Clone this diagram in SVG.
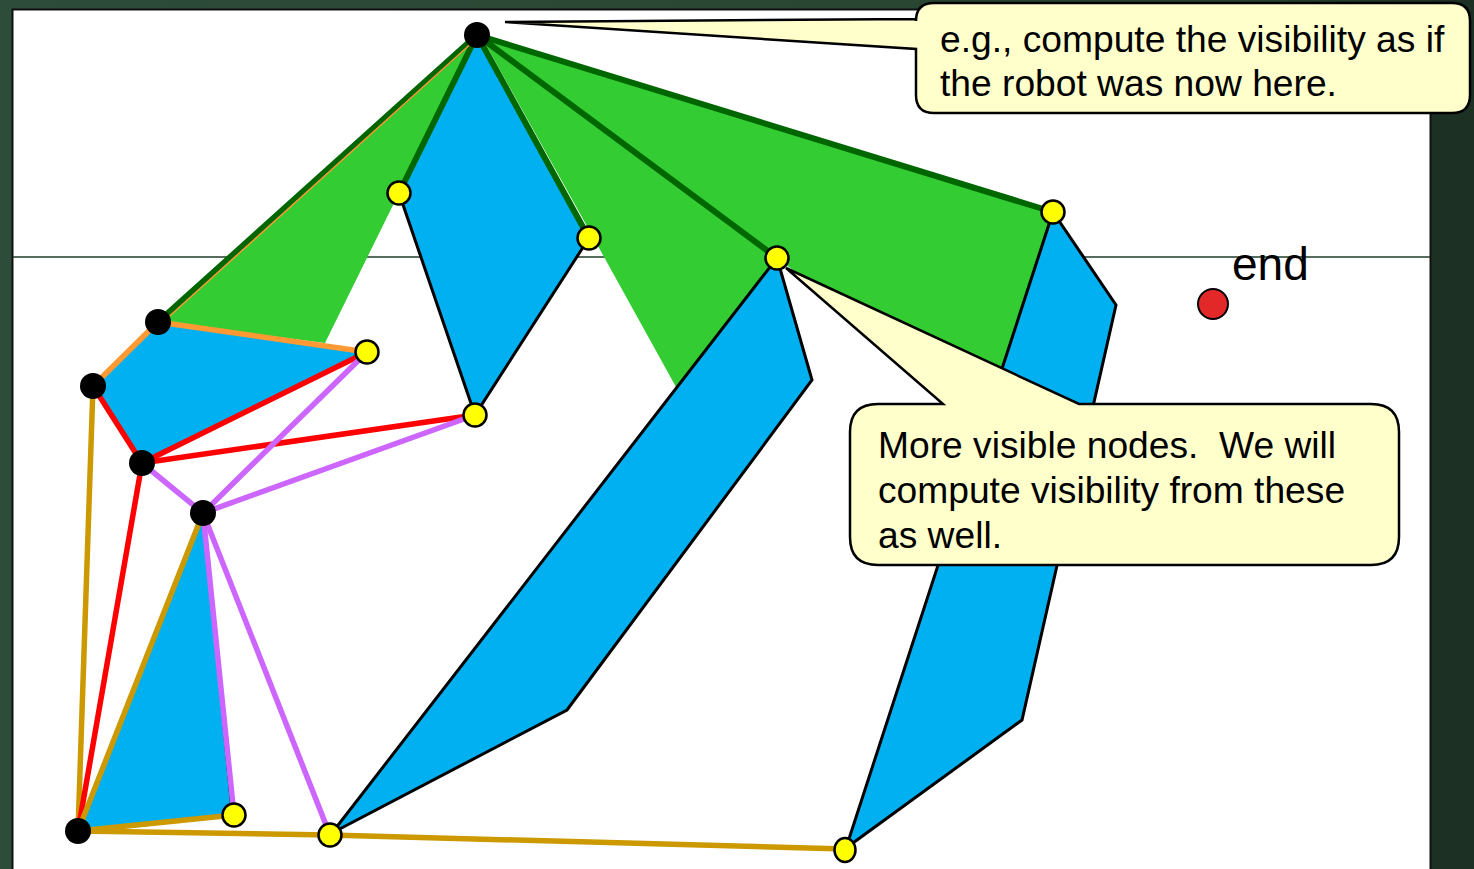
<svg xmlns="http://www.w3.org/2000/svg" width="1474" height="869" viewBox="0 0 1474 869">
<defs>
<linearGradient id="bg" x1="0" y1="0" x2="1" y2="0">
<stop offset="0" stop-color="#2d4c39"/>
<stop offset="0.85" stop-color="#27432f"/>
<stop offset="1" stop-color="#1b2f22"/>
</linearGradient>
<style>
.green{fill:#33cc33;stroke:none}
.blue{fill:#00b0f0;stroke:#000;stroke-width:3;stroke-linejoin:miter}
.dg{stroke:#006600;stroke-width:6;fill:none;stroke-linecap:round}
.or{stroke:#ff9933;stroke-width:5.5;fill:none;stroke-linecap:round}
.rd{stroke:#ff0000;stroke-width:5.5;fill:none;stroke-linecap:round}
.pu{stroke:#cc66ff;stroke-width:5.5;fill:none;stroke-linecap:round}
.gd{stroke:#cc9900;stroke-width:5.5;fill:none;stroke-linecap:round}
.bn{fill:#000}
.yn{fill:#ffff00;stroke:#000;stroke-width:2.5}
.call{fill:#ffffcc;stroke:#000;stroke-width:2.5;stroke-linejoin:miter}
.txt{font-family:"Liberation Sans",Arial,sans-serif;font-size:37.2px;fill:#000;white-space:pre}
</style>
</defs>
<rect x="0" y="0" width="1474" height="869" fill="url(#bg)"/>
<rect x="1432" y="0" width="42" height="869" fill="#1c3124"/>
<rect x="12.5" y="9.5" width="1418" height="870" fill="#ffffff" stroke="#111" stroke-width="2"/>
<line x1="13" y1="257" x2="1430" y2="257" stroke="#1f3d2b" stroke-width="1.5"/>

<g id="regions">
<polygon class="green" points="477,35 158,322 325,343 399,193"/>
<polygon class="green" points="481,36 593,237 676,387 777,258"/>
<polygon class="green" points="477,35 777,258 988,416 1053,212"/>
<polygon class="blue" points="477,35 399,193 475,415 589,238"/>
<polygon class="blue" points="777,258 812,380 567,710 332,833"/>
<polygon class="blue" points="1053,212 1116,305 1022,720 846,848"/>
<polygon points="158,322 93,386 142,463 367,352" fill="#00b0f0"/>
<polygon points="203,513 232,815 78,831" fill="#00b0f0" stroke="#000" stroke-width="2"/>
</g>

<g id="connectors">
<line x1="480" y1="37" x2="592" y2="238" stroke="#fff" stroke-width="2"/>
<line class="dg" x1="477" y1="35" x2="399" y2="193"/>
<line class="dg" x1="477" y1="35" x2="158" y2="322"/>
<line class="dg" x1="477" y1="35" x2="589" y2="238"/>
<line class="dg" x1="477" y1="35" x2="777" y2="258"/>
<line class="dg" x1="477" y1="35" x2="1053" y2="212"/>
<line x1="475" y1="40" x2="163" y2="322" stroke="#ff9933" stroke-width="1.5"/>
<line class="or" x1="158" y1="322" x2="93" y2="386"/>
<line class="or" x1="158" y1="322" x2="367" y2="352"/>
<line class="gd" x1="93" y1="386" x2="78" y2="831"/>
<line class="rd" x1="93" y1="386" x2="142" y2="463"/>
<line class="rd" x1="142" y1="463" x2="367" y2="352"/>
<line class="rd" x1="142" y1="463" x2="475" y2="415"/>
<line class="rd" x1="142" y1="463" x2="78" y2="831"/>
<line class="pu" x1="142" y1="463" x2="203" y2="513"/>
<line class="pu" x1="203" y1="513" x2="367" y2="352"/>
<line class="pu" x1="203" y1="513" x2="475" y2="415"/>
<line class="pu" x1="203" y1="513" x2="234" y2="815"/>
<line class="pu" x1="203" y1="513" x2="330" y2="835"/>
<line class="gd" x1="78" y1="831" x2="203" y2="513"/>
<line class="gd" x1="78" y1="831" x2="234" y2="815"/>
<line class="gd" x1="78" y1="831" x2="330" y2="835"/>
<line class="gd" x1="330" y1="835" x2="845" y2="849"/>
</g>

<g id="n0"><circle class="bn" cx="477" cy="35" r="13"/></g>
<g id="n1"><circle class="bn" cx="158" cy="322" r="13"/></g>
<g id="n2"><circle class="bn" cx="93" cy="386" r="13"/></g>
<g id="n3"><circle class="bn" cx="142" cy="463" r="13"/></g>
<g id="n4"><circle class="bn" cx="203" cy="513" r="13"/></g>
<g id="n5"><circle class="bn" cx="78" cy="831" r="13"/></g>
<g id="y1"><circle class="yn" cx="399" cy="193" r="11.5"/></g>
<g id="y2"><circle class="yn" cx="589" cy="238" r="11.5"/></g>
<g id="y3"><circle class="yn" cx="777" cy="258" r="11.5"/></g>
<g id="y4"><circle class="yn" cx="1053" cy="212" r="11.5"/></g>
<g id="y5"><circle class="yn" cx="367" cy="352" r="11.5"/></g>
<g id="y6"><circle class="yn" cx="475" cy="415" r="11.5"/></g>
<g id="y7"><circle class="yn" cx="234" cy="815" r="11.5"/></g>
<g id="y8"><circle class="yn" cx="330" cy="835" r="11.5"/></g>
<g id="y9"><ellipse class="yn" cx="845" cy="850" rx="10.5" ry="12"/></g>

<g id="end">
<circle cx="1213" cy="304" r="15" fill="#e22828" stroke="#000" stroke-width="2"/>
<text x="1232" y="280" font-family="Liberation Sans, Arial, sans-serif" font-size="46" fill="#000">end</text>
</g>

<g id="callout-top">
<path class="call" d="M934,3 H1452 Q1470,3 1470,21 V95 Q1470,113 1452,113 H934 Q916,113 916,95 V49 L505,22 L916,19 V21 Q916,3 934,3 Z"/>
<text class="txt" x="940" y="52">e.g., compute the visibility as if</text>
<text class="txt" x="940" y="96">the robot was now here.</text>
</g>

<g id="callout-bottom">
<path class="call" d="M878,404 H943 L786,268 L1079,404 H1371 Q1399,404 1399,432 V537 Q1399,565 1371,565 H878 Q850,565 850,537 V432 Q850,404 878,404 Z"/>
<text class="txt" x="878" y="458">More visible nodes.  We will</text>
<text class="txt" x="878" y="503">compute visibility from these</text>
<text class="txt" x="878" y="548">as well.</text>
</g>
</svg>
